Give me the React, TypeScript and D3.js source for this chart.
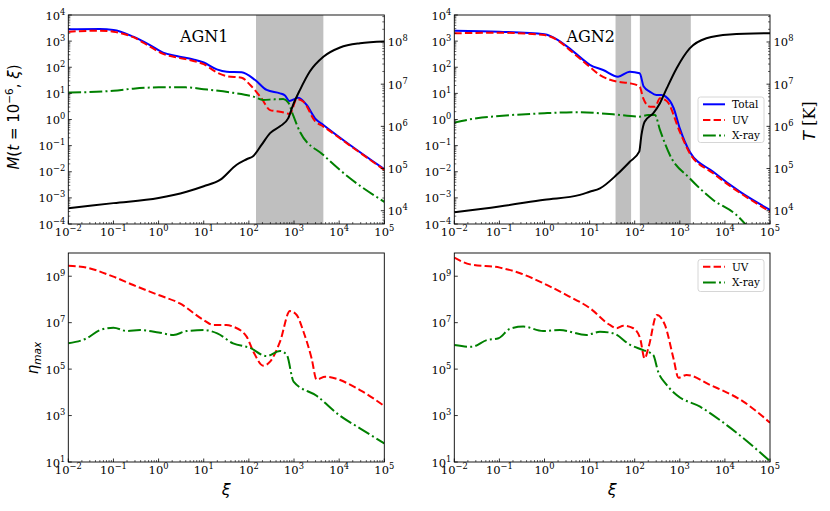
import React from 'react';
import * as d3 from 'd3';

const W = 830;
const H = 511;

// ---- Data (log10 values) ----
// AGN1, top panel
const agn1TotalXi = [-2.0, -1.3, -1.0, -0.56, -0.19, 0.1, 0.4, 0.77, 1.0, 1.29, 1.51, 1.84, 2.14, 2.395, 2.69, 2.8, 2.896, 3.095, 3.28, 3.465, 3.65, 4.24, 5.0];
const agn1TotalM = [3.45, 3.46, 3.43, 3.17, 2.85, 2.56, 2.43, 2.3, 2.18, 1.92, 1.83, 1.81, 1.51, 1.13, 1.0, 0.92, 0.71, 0.83, 0.555, 0.046, -0.21, -0.976, -1.9];
const agn1UvXi = [-2.0, -1.3, -1.0, -0.56, -0.19, 0.1, 0.4, 0.77, 1.0, 1.29, 1.51, 1.84, 2.03, 2.28, 2.47, 2.69, 2.91, 3.06, 3.21, 3.465, 3.65, 4.24, 5.0];
const agn1UvM = [3.36, 3.4, 3.36, 3.15, 2.79, 2.51, 2.38, 2.24, 2.12, 1.8, 1.66, 1.6, 1.32, 0.81, 0.36, 0.3, 0.22, 0.78, 0.68, -0.06, -0.27, -1.0, -1.93];
const agn1XrXi = [-2.0, -1.0, -0.56, 0.0, 0.6, 1.0, 1.65, 2.1, 2.32, 2.55, 2.76, 2.87, 2.98, 3.13, 3.65, 4.24, 5.0];
const agn1XrM = [1.03, 1.1, 1.18, 1.23, 1.23, 1.16, 1.02, 0.875, 0.75, 0.77, 0.78, 0.66, 0.17, -0.47, -1.36, -2.25, -3.15];
const agn1TXi = [-2.0, -1.0, 0.0, 0.62, 1.0, 1.36, 1.73, 1.95, 2.1, 2.28, 2.47, 2.69, 2.87, 2.98, 3.13, 3.35, 3.65, 4.02, 4.46, 5.0];
const agn1T = [4.06, 4.18, 4.3, 4.45, 4.58, 4.73, 5.09, 5.22, 5.3, 5.56, 5.84, 6.0, 6.19, 6.51, 6.86, 7.3, 7.65, 7.87, 7.97, 8.01];
const agn1Bands = [[2.158, 3.65]];

// AGN2, top panel
const agn2TotalXi = [-2.0, -1.0, 0.0, 0.3, 0.6, 0.82, 1.006, 1.3, 1.63, 1.89, 2.11, 2.2, 2.34, 2.48, 2.59, 2.78, 2.86, 3.0, 3.22, 3.74, 4.33, 5.0];
const agn2TotalM = [3.4, 3.36, 3.26, 3.04, 2.66, 2.34, 2.09, 1.895, 1.64, 1.83, 1.77, 1.26, 1.06, 0.94, 0.94, 0.71, 0.45, -0.34, -1.23, -2.0, -2.76, -3.46];
const agn2UvXi = [-2.0, -1.0, 0.0, 0.3, 0.6, 1.0, 1.23, 1.6, 1.89, 2.11, 2.19, 2.34, 2.45, 2.56, 2.71, 3.0, 3.22, 3.74, 5.0];
const agn2UvM = [3.3, 3.32, 3.23, 3.02, 2.6, 2.02, 1.7, 1.45, 1.39, 1.26, 0.81, 0.49, 0.49, 0.81, 0.71, -0.47, -1.29, -2.06, -3.53];
const agn2XrXi = [-2.0, -1.5, -1.0, 0.0, 0.74, 1.52, 2.11, 2.3, 2.45, 2.56, 2.78, 3.22, 3.74, 4.26, 4.6];
const agn2XrM = [-0.12, 0.05, 0.135, 0.24, 0.28, 0.2, 0.11, 0.17, 0.17, -0.4, -1.36, -2.25, -3.08, -3.66, -4.3];
const agn2TXi = [-2.0, -1.0, 0.0, 0.785, 1.0, 1.23, 1.6, 1.89, 2.1, 2.15, 2.22, 2.41, 2.56, 2.71, 2.93, 3.22, 3.59, 4.11, 5.0];
const agn2T = [3.965, 4.1, 4.26, 4.375, 4.45, 4.53, 4.85, 5.16, 5.4, 5.8, 6.11, 6.31, 6.55, 6.9, 7.38, 7.85, 8.09, 8.18, 8.21];
const agn2Bands = [[1.575, 1.92], [2.114, 3.244]];

// AGN1, bottom panel (eta_max)
const agn1EtaUvXi = [-2.0, -1.67, -1.0, -0.56, 0.0, 0.47, 1.0, 1.21, 1.5, 1.65, 1.95, 2.1, 2.32, 2.47, 2.69, 2.91, 3.06, 3.21, 3.39, 3.5, 3.69, 4.46, 5.0];
const agn1EtaUv = [9.45, 9.4, 8.98, 8.62, 8.19, 7.83, 7.11, 6.9, 6.9, 6.83, 6.4, 5.75, 5.15, 5.32, 6.18, 7.5, 7.33, 6.61, 5.46, 4.55, 4.67, 4.1, 3.41];
const agn1EtaXrXi = [-2.0, -1.59, -1.3, -1.0, -0.7, -0.41, 0.0, 0.33, 0.62, 1.0, 1.3, 1.65, 2.02, 2.39, 2.69, 2.84, 2.99, 3.5, 4.0, 4.46, 5.0];
const agn1EtaXr = [6.11, 6.33, 6.68, 6.78, 6.64, 6.68, 6.58, 6.47, 6.64, 6.68, 6.54, 6.11, 5.92, 5.56, 5.78, 5.61, 4.46, 3.85, 3.02, 2.45, 1.8];

// AGN2, bottom panel (eta_max)
const agn2EtaUvXi = [-2.0, -1.65, -0.99, -0.54, -0.03, 0.49, 1.01, 1.45, 1.6, 1.75, 1.97, 2.12, 2.22, 2.31, 2.49, 2.67, 2.86, 2.97, 3.15, 3.67, 4.41, 5.0];
const agn2EtaUv = [9.8, 9.51, 9.37, 9.13, 8.7, 8.19, 7.62, 6.9, 6.76, 6.87, 6.76, 6.33, 5.46, 5.96, 7.33, 6.9, 5.46, 4.63, 4.75, 4.32, 3.6, 2.69];
const agn2EtaXrXi = [-2.0, -1.62, -1.28, -1.02, -0.77, -0.47, -0.03, 0.34, 0.93, 1.23, 1.53, 1.9, 2.19, 2.41, 2.52, 2.71, 2.93, 3.45, 4.04, 5.0];
const agn2EtaXr = [6.04, 5.96, 6.25, 6.33, 6.73, 6.83, 6.64, 6.68, 6.47, 6.61, 6.54, 6.04, 5.82, 5.61, 4.89, 4.32, 3.88, 3.38, 2.59, 1.04];

// Axis tick exponents
const xTickExp = [-2, -1, 0, 1, 2, 3, 4, 5];
const mTickExp = [-4, -3, -2, -1, 0, 1, 2, 3, 4];
const tTickExp = [4, 5, 6, 7, 8];
const etaTickExp = [1, 3, 5, 7, 9];

const SERIF = 'DejaVu Serif';
const SANS = 'DejaVu Sans';
const BLUE = '#0000ff';
const RED = '#ff0000';
const GREEN = '#008000';

const LW = 2;
const UV_DASH = '7.4,3.2';
const XR_DASH = '12.8,3.2,2,3.2';

type Box = { x0: number; x1: number; y0: number; y1: number };

const TL: Box = { x0: 68.3, x1: 384.3, y0: 15, y1: 224 };
const TR: Box = { x0: 454.3, x1: 770, y0: 15, y1: 224 };
const BL: Box = { x0: 68.3, x1: 384.3, y0: 253, y1: 462 };
const BR: Box = { x0: 454.3, x1: 770, y0: 253, y1: 462 };

const pow10 = (v: number) => Math.pow(10, v);
const supTxt = (e: number) => (e < 0 ? '\u2212' + -e : String(e));

function Pow10({ x, y, e, anchor }: { x: number; y: number; e: number; anchor: string }) {
  return (
    <text x={x} y={y} textAnchor={anchor} fontFamily={SERIF} fontSize={11.5} fill="#000">
      10<tspan dy={-5} fontSize={8.3}>{supTxt(e)}</tspan>
    </text>
  );
}

function minorTicks(lo: number, hi: number) {
  const out: number[] = [];
  for (let d = Math.floor(lo) - 1; d <= Math.ceil(hi); d++) {
    for (let s = 2; s <= 9; s++) {
      const v = d + Math.log10(s);
      if (v > lo + 1e-6 && v < hi - 1e-6) out.push(v);
    }
  }
  return out;
}

type Series = { xi: number[]; v: number[]; color: string; dash?: string; axis?: 'T' };

function Panel({
  id, box, yDomain, yTicks, yMinor, series, bands, tDomain, showXLabel,
}: {
  id: string; box: Box; yDomain: [number, number]; yTicks: number[]; yMinor: boolean;
  series: Series[]; bands?: number[][]; tDomain?: [number, number]; showXLabel?: boolean;
}) {
  const x = d3.scaleLog().domain([1e-2, 1e5]).range([box.x0, box.x1]);
  const y = d3.scaleLog().domain([pow10(yDomain[0]), pow10(yDomain[1])]).range([box.y1, box.y0]);
  const yT = tDomain ? d3.scaleLog().domain([pow10(tDomain[0]), pow10(tDomain[1])]).range([box.y1, box.y0]) : null;

  const mk = (s: Series) => {
    const sc = s.axis === 'T' && yT ? yT : y;
    const line = d3
      .line<[number, number]>()
      .x((d) => x(pow10(d[0])))
      .y((d) => sc(pow10(d[1])))
      .curve(d3.curveMonotoneX);
    return line(s.xi.map((v, i) => [v, s.v[i]] as [number, number])) || '';
  };

  const xMinor = minorTicks(-2, 5);
  const yMinorVals = yMinor ? minorTicks(yDomain[0], yDomain[1]) : [];
  const tMinorVals = tDomain ? minorTicks(tDomain[0], tDomain[1]) : [];

  return (
    <g>
      <defs>
        <clipPath id={id}>
          <rect x={box.x0} y={box.y0} width={box.x1 - box.x0} height={box.y1 - box.y0} />
        </clipPath>
      </defs>
      <g clipPath={`url(#${id})`}>
        {(bands || []).map((b, i) => (
          <rect key={i} x={x(pow10(b[0]))} y={box.y0} width={x(pow10(b[1])) - x(pow10(b[0]))} height={box.y1 - box.y0} fill="#bfbfbf" />
        ))}
        {series.map((s, i) => (
          <path key={i} d={mk(s)} fill="none" stroke={s.color} strokeWidth={LW} strokeDasharray={s.dash} />
        ))}
      </g>
      {/* x ticks */}
      {xTickExp.map((e) => (
        <g key={'xt' + e}>
          <line x1={x(pow10(e))} x2={x(pow10(e))} y1={box.y1} y2={box.y1 - 3.5} stroke="#000" strokeWidth={0.8} />
          <Pow10 x={x(pow10(e))} y={box.y1 + 11.5} e={e} anchor="middle" />
        </g>
      ))}
      {xMinor.map((v, i) => (
        <line key={'xm' + i} x1={x(pow10(v))} x2={x(pow10(v))} y1={box.y1} y2={box.y1 - 2} stroke="#000" strokeWidth={0.6} />
      ))}
      {/* y ticks */}
      {yTicks.map((e) => (
        <g key={'yt' + e}>
          <line x1={box.x0} x2={box.x0 + 3.5} y1={y(pow10(e))} y2={y(pow10(e))} stroke="#000" strokeWidth={0.8} />
          <Pow10 x={box.x0 - 3} y={y(pow10(e)) + 4.5} e={e} anchor="end" />
        </g>
      ))}
      {yMinorVals.map((v, i) => (
        <line key={'ym' + i} x1={box.x0} x2={box.x0 + 2} y1={y(pow10(v))} y2={y(pow10(v))} stroke="#000" strokeWidth={0.6} />
      ))}
      {yT &&
        tTickExp.map((e) => (
          <g key={'tt' + e}>
            <line x1={box.x1} x2={box.x1 - 3.5} y1={yT(pow10(e))} y2={yT(pow10(e))} stroke="#000" strokeWidth={0.8} />
            <Pow10 x={box.x1 + 3.5} y={yT(pow10(e)) + 4.5} e={e} anchor="start" />
          </g>
        ))}
      {yT &&
        tMinorVals.map((v, i) => (
          <line key={'tm' + i} x1={box.x1} x2={box.x1 - 2} y1={yT(pow10(v))} y2={yT(pow10(v))} stroke="#000" strokeWidth={0.6} />
        ))}
      <rect x={box.x0} y={box.y0} width={box.x1 - box.x0} height={box.y1 - box.y0} fill="none" stroke="#000" strokeWidth={0.9} />
      {showXLabel && (
        <text x={(box.x0 + box.x1) / 2} y={495} textAnchor="middle" fontFamily={SANS} fontStyle="italic" fontSize={16}>
          ξ
        </text>
      )}
    </g>
  );
}

function Legend({ x0, y0, w, h, items }: { x0: number; y0: number; w: number; h: number; items: { label: string; color: string; dash?: string }[] }) {
  const rowH = 15.6;
  return (
    <g>
      <rect x={x0} y={y0} width={w} height={h} rx={2.5} fill="#fff" fillOpacity={0.8} stroke="#cccccc" strokeWidth={0.8} />
      {items.map((it, i) => {
        const yy = y0 + 7.3 + i * rowH;
        return (
          <g key={i}>
            <line x1={x0 + 5} x2={x0 + 27} y1={yy} y2={yy} stroke={it.color} strokeWidth={LW} strokeDasharray={it.dash} />
            <text x={x0 + 34} y={yy + 3.7} fontFamily={SERIF} fontSize={10.5}>
              {it.label}
            </text>
          </g>
        );
      })}
    </g>
  );
}

export default function App() {
  return (
    <svg width={W} height={H} viewBox={`0 0 ${W} ${H}`} style={{ position: 'absolute', left: 0, top: 0, background: '#fff' }}>
      <rect x={0} y={0} width={W} height={H} fill="#fff" />
      <Panel
        id="c1"
        box={TL}
        yDomain={[-4, 4]}
        yTicks={mTickExp}
        yMinor
        tDomain={[3.685, 8.64]}
        bands={agn1Bands}
        series={[
          { xi: agn1TotalXi, v: agn1TotalM, color: BLUE },
          { xi: agn1UvXi, v: agn1UvM, color: RED, dash: UV_DASH },
          { xi: agn1XrXi, v: agn1XrM, color: GREEN, dash: XR_DASH },
          { xi: agn1TXi, v: agn1T, color: '#000', axis: 'T' },
        ]}
      />
      <Panel
        id="c2"
        box={TR}
        yDomain={[-4, 4]}
        yTicks={mTickExp}
        yMinor
        tDomain={[3.685, 8.64]}
        bands={agn2Bands}
        series={[
          { xi: agn2TotalXi, v: agn2TotalM, color: BLUE },
          { xi: agn2UvXi, v: agn2UvM, color: RED, dash: UV_DASH },
          { xi: agn2XrXi, v: agn2XrM, color: GREEN, dash: XR_DASH },
          { xi: agn2TXi, v: agn2T, color: '#000', axis: 'T' },
        ]}
      />
      <Panel
        id="c3"
        box={BL}
        yDomain={[1, 10]}
        yTicks={etaTickExp}
        yMinor={false}
        showXLabel
        series={[
          { xi: agn1EtaUvXi, v: agn1EtaUv, color: RED, dash: UV_DASH },
          { xi: agn1EtaXrXi, v: agn1EtaXr, color: GREEN, dash: XR_DASH },
        ]}
      />
      <Panel
        id="c4"
        box={BR}
        yDomain={[1, 10]}
        yTicks={etaTickExp}
        yMinor={false}
        showXLabel
        series={[
          { xi: agn2EtaUvXi, v: agn2EtaUv, color: RED, dash: UV_DASH },
          { xi: agn2EtaXrXi, v: agn2EtaXr, color: GREEN, dash: XR_DASH },
        ]}
      />
      <text x={180} y={41.5} fontFamily={SERIF} fontSize={16}>AGN1</text>
      <text x={566.5} y={41.5} fontFamily={SERIF} fontSize={16}>AGN2</text>
      <Legend
        x0={698}
        y0={97}
        w={66}
        h={45.5}
        items={[
          { label: 'Total', color: BLUE },
          { label: 'UV', color: RED, dash: UV_DASH },
          { label: 'X-ray', color: GREEN, dash: XR_DASH },
        ]}
      />
      <Legend
        x0={698}
        y0={259.5}
        w={66}
        h={32}
        items={[
          { label: 'UV', color: RED, dash: UV_DASH },
          { label: 'X-ray', color: GREEN, dash: XR_DASH },
        ]}
      />
      {/* y labels */}
      <text transform="translate(19,117) rotate(-90)" textAnchor="middle" fontFamily={SANS} fontSize={15}>
        <tspan fontStyle="italic">M</tspan>(<tspan fontStyle="italic">t</tspan> = 10
        <tspan dy={-6} fontSize={10.5}>−6</tspan>
        <tspan dy={6}>, </tspan>
        <tspan fontStyle="italic">ξ</tspan>)
      </text>
      <text transform="translate(815,121) rotate(-90)" textAnchor="middle" fontSize={16}>
        <tspan fontFamily={SANS} fontStyle="italic">T</tspan>
        <tspan fontFamily={SERIF}> [K]</tspan>
      </text>
      <text transform="translate(38,358) rotate(-90)" textAnchor="middle" fontFamily={SANS} fontSize={15}>
        <tspan fontStyle="italic">η</tspan>
        <tspan dy={3} fontSize={10.5} fontStyle="italic">max</tspan>
      </text>
    </svg>
  );
}
